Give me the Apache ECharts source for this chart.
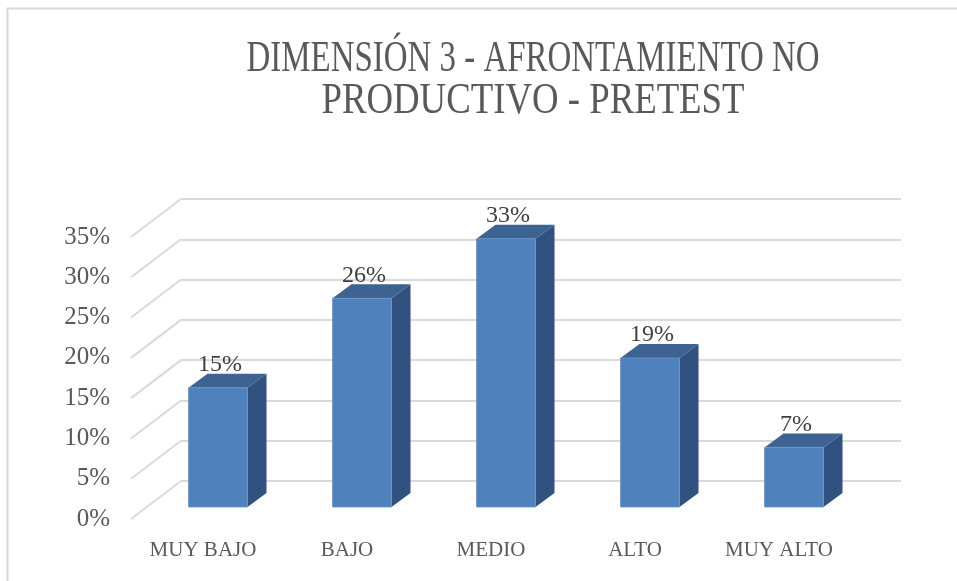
<!DOCTYPE html>
<html>
<head>
<meta charset="utf-8">
<title>Dimensión 3 - Afrontamiento no productivo - Pretest</title>
<style>
    body {margin: 0; background: #fff}
    #main {width: 957px; height: 581px}
</style>
</head>
<body>
<div id="main"></div>
<script src="https://cdn.jsdelivr.net/npm/echarts@6/dist/echarts.min.js"></script>
<script>
var categories = ['MUY BAJO', 'BAJO', 'MEDIO', 'ALTO', 'MUY ALTO'];
var values = [0.148, 0.259, 0.333, 0.185, 0.074];
var ticks = [0, 0.05, 0.10, 0.15, 0.20, 0.25, 0.30, 0.35];
var titleLines = ['DIMENSIÓN 3 - AFRONTAMIENTO NO', 'PRODUCTIVO - PRETEST'];

var depthX = 50, depthY = -38;     // back wall offset
var barOffX = 15, barOffY = -12;   // bars sit a bit behind the front edge
var barW = 59, sideX = 19, sideY = -14;
var gridColor = '#d9d9d9';
var font = '"Liberation Serif", "DejaVu Serif", serif';

function pct(v) { return Math.round(v * 100) + '%'; }

// squeeze the title lines so they have the narrow look of the original
var ctx = document.createElement('canvas').getContext('2d');
ctx.font = '44px ' + font;
var titleWidths = [573, 423];
var titleY = [59, 101];
var titleGraphics = titleLines.map(function (t, i) {
    return {
        type: 'text',
        x: 533, y: titleY[i],
        scaleX: titleWidths[i] / ctx.measureText(t).width,
        style: { text: t, font: '44px ' + font, fill: '#595959', textAlign: 'center', textVerticalAlign: 'middle' }
    };
});

var myChart = echarts.init(document.getElementById('main'));

var option = {
    animation: false,
    grid: [
        { left: 131, right: 106, top: 237, bottom: 62 },
        { left: 131 + depthX, right: 106 - depthX, top: 237 + depthY, bottom: 62 - depthY }
    ],
    xAxis: [{
        type: 'category',
        gridIndex: 0,
        data: categories,
        axisLine: { show: false },
        axisTick: { show: false },
        axisLabel: { color: '#595959', fontSize: 21, fontFamily: font, margin: 21 }
    }, {
        type: 'category',
        gridIndex: 1,
        data: categories,
        show: false
    }],
    yAxis: [{
        type: 'value',
        gridIndex: 0,
        min: 0, max: 0.35, interval: 0.05,
        axisLine: { show: false },
        axisTick: { show: false },
        splitLine: { show: false },
        axisLabel: { color: '#595959', fontSize: 25, fontFamily: font, margin: 21, formatter: pct }
    }, {
        type: 'value',
        gridIndex: 1,
        min: 0, max: 0.35, interval: 0.05,
        axisLine: { show: false },
        axisTick: { show: false },
        axisLabel: { show: false },
        splitLine: { lineStyle: { color: gridColor, width: 2 } }
    }],
    graphic: [{
        type: 'rect',
        z: -10,
        shape: { x: 7.5, y: 8.5, width: 980, height: 600 },
        style: { fill: null, stroke: gridColor, lineWidth: 2 }
    }].concat(titleGraphics),
    series: [{
        // floor/side diagonals joining front ticks to the back wall
        type: 'custom',
        xAxisIndex: 0, yAxisIndex: 0,
        silent: true,
        z: 1,
        data: ticks.map(function (t) { return [0, t]; }),
        renderItem: function (params, api) {
            var p = api.coord([0, api.value(1)]);
            var x = params.coordSys.x;
            return {
                type: 'line',
                shape: { x1: x, y1: p[1], x2: x + depthX, y2: p[1] + depthY },
                style: { stroke: gridColor, lineWidth: 2 }
            };
        }
    }, {
        type: 'custom',
        xAxisIndex: 0, yAxisIndex: 0,
        z: 5,
        data: values.map(function (v, i) { return [i, v]; }),
        renderItem: function (params, api) {
            var top = api.coord([api.value(0), api.value(1)]);
            var base = api.coord([api.value(0), 0]);
            var cx = top[0] + barOffX;
            var x0 = cx - barW / 2, x1 = cx + barW / 2;
            var yt = top[1] + barOffY, yb = base[1] + barOffY;
            return {
                type: 'group',
                children: [{
                    type: 'polygon',
                    shape: { points: [[x1, yt], [x1 + sideX, yt + sideY], [x1 + sideX, yb + sideY], [x1, yb]] },
                    style: { fill: '#31527e' }
                }, {
                    type: 'polygon',
                    shape: { points: [[x0, yt], [x0 + sideX, yt + sideY], [x1 + sideX, yt + sideY], [x1, yt]] },
                    style: { fill: '#3c6391' }
                }, {
                    type: 'rect',
                    shape: { x: x0, y: yt, width: barW, height: yb - yt },
                    style: { fill: '#4f81bd', stroke: '#6d94c6', lineWidth: 0.8 }
                }, {
                    type: 'text',
                    x: cx + 2, y: yt - 23,
                    style: { text: pct(api.value(1)), font: '24px ' + font, fill: '#404040', textAlign: 'center', textVerticalAlign: 'middle' }
                }]
            };
        }
    }]
};

myChart.setOption(option);
</script>
</body>
</html>
